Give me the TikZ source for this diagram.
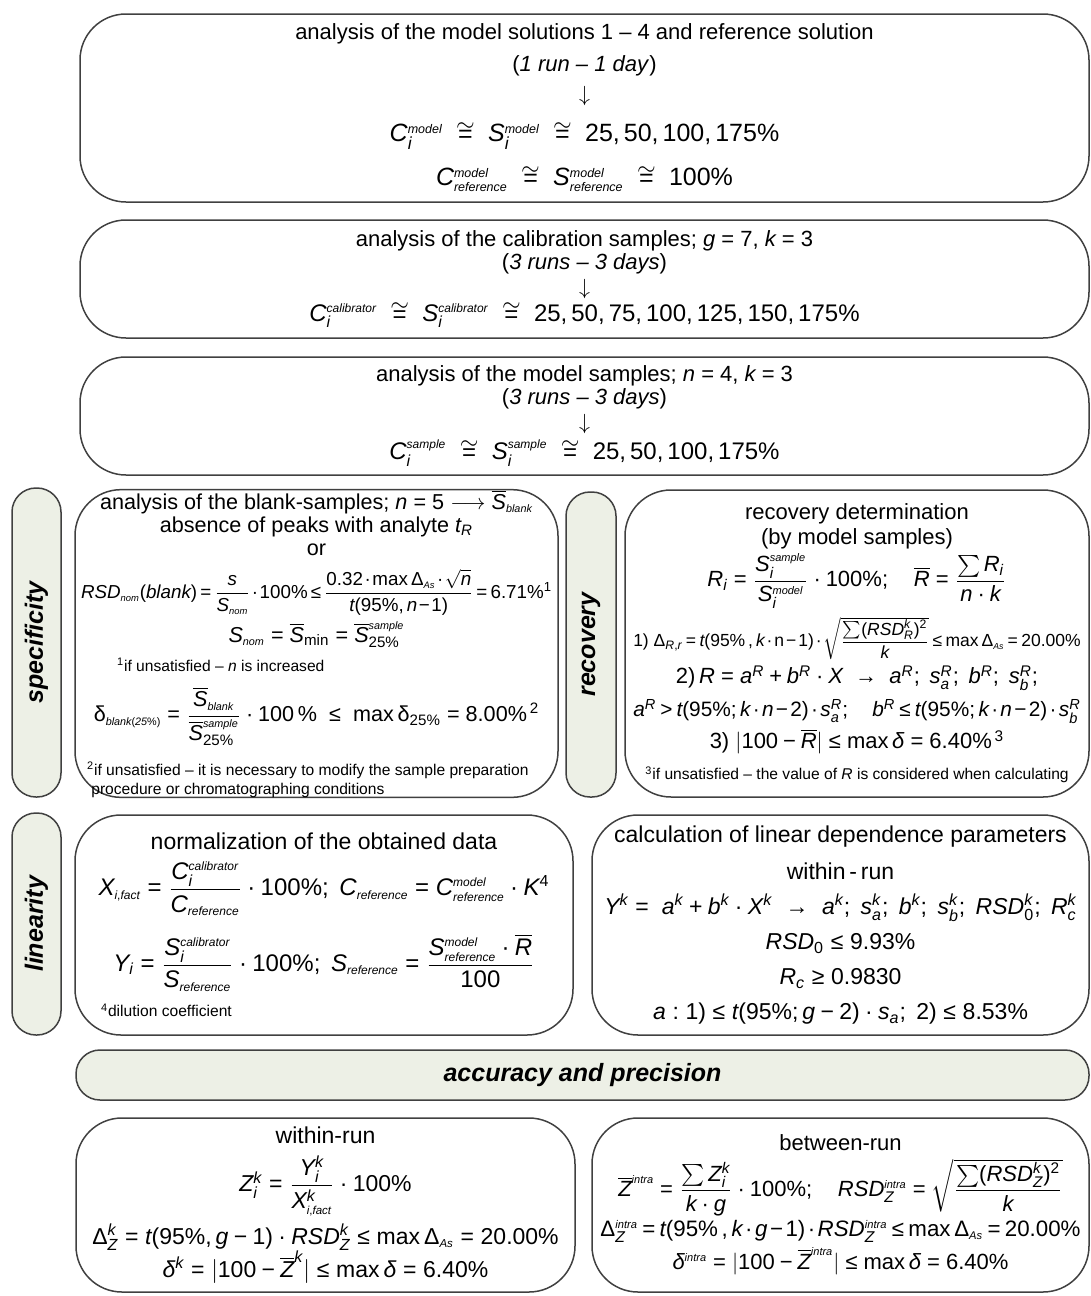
\documentclass[tikz,border=0pt]{standalone}
\usepackage{amsmath}
\usepackage{fontspec}
\setmainfont{Liberation Sans}
\newfontfamily\mathsans{Liberation Sans}[NFSSFamily=libsans]
% sans serif letters and digits in formulas
\DeclareSymbolFont{sfit}{TU}{libsans}{m}{it}
\SetSymbolFont{operators}{normal}{TU}{libsans}{m}{n}
\DeclareMathAlphabet{\mathit}{TU}{libsans}{m}{it}
\makeatletter
\count@=`A
\loop \Umathcode\count@=7 \symsfit\count@ \ifnum\count@<`Z \advance\count@\@ne \repeat
\count@=`a
\loop \Umathcode\count@=7 \symsfit\count@ \ifnum\count@<`z \advance\count@\@ne \repeat
\AtBeginDocument{%
  \count@=`0
  \loop \Umathcode\count@=7 \symoperators\count@ \ifnum\count@<`9 \advance\count@\@ne \repeat
  \Umathcode`(=4 \symoperators `(
  \Umathcode`)=5 \symoperators `)
  \Umathcode`==3 \symoperators `=
  \Umathcode`+=2 \symoperators `+
  \Umathcode`-=2 \symoperators "2212
  \Umathcode`;=6 \symoperators `;
  \Umathcode`:=3 \symoperators `:
  \Umathcode`,=6 \symoperators `,
  \Umathcode`.=0 \symoperators `.
  \Umathcode`>=3 \symoperators `>
  \Umathcode`<=3 \symoperators `<
  \Umathcode`\%=0 \symoperators `\%
  \Umathcode"03B4=7 \symsfit "03B4
  \Umathcode"0394=0 \symoperators "0394
  \let\cmrightarrow\rightarrow
  \renewcommand{\longrightarrow}{\relbar\joinrel\cmrightarrow}
  \Umathchardef\le="3 \symoperators "2264
  \Umathchardef\ge="3 \symoperators "2265
  \Umathchardef\cdot="2 \symoperators "00B7
  \Umathchardef\rightarrow="3 \symoperators "2192
}
\makeatother
\usetikzlibrary{positioning}

\definecolor{edge}{HTML}{404040}
\definecolor{tabfill}{HTML}{EDF0E6}

% small italic words in indices
\newcommand{\w}[1]{\mathit{\scriptscriptstyle #1}}
\newcommand{\lline}[1]{\makebox[\hsize][l]{#1}}
\newcommand{\fullline}[1]{\resizebox{0.99\hsize}{!}{\medmuskip=2mu\thickmuskip=3.5mu #1}}
\newcommand{\fnote}{\fontsize{7.8}{9}\selectfont}

\tikzset{
  box/.style={draw=edge, line width=0.75pt, rounded corners=23pt, inner xsep=3pt,
    inner ysep=0pt, align=flush center, font=\fontsize{11}{13}\selectfont,
    execute at begin node=\setlength{\parindent}{0pt}},
  tab/.style={draw=edge, fill=tabfill, line width=0.75pt, rounded corners=12pt,
    inner sep=0pt, font=\fontsize{12.5}{14}\selectfont\bfseries\itshape},
}

\begin{document}
\begin{tikzpicture}[x=1pt,y=-1pt]
\useasboundingbox (0,0) rectangle (545.5,648);

% the three analysis steps
\node[box, minimum height=94pt, text width=498.5pt, font=\fontsize{11}{16}\selectfont] (solutions) at (292.25,54) {
  analysis of the model solutions 1 – 4 and reference solution\\
  (\textit{1 run – 1 day})\\[-1pt]
  $\downarrow$\\[4pt]
  {\fontsize{12.5}{14}\selectfont $C_i^{\w{model}} \;\cong\; S_i^{\w{model}} \;\cong\; 25, 50, 100, 175\%$}\\[6pt]
  {\fontsize{12.5}{14}\selectfont $C^{\w{model}}_{\w{reference}} \;\cong\; S^{\w{model}}_{\w{reference}} \;\cong\; 100\%$}};
\node[box, minimum height=59pt, text width=498.5pt, font=\fontsize{11}{11.5}\selectfont] (calibration) at (292.25,139.5) {
  analysis of the calibration samples; $g = 7$, $k = 3$\\
  (\textit{3 runs – 3 days})\\[1pt]
  $\downarrow$\\[2pt]
  {\fontsize{12}{14}\selectfont $C_i^{\w{calibrator}} \;\cong\; S_i^{\w{calibrator}} \;\cong\; 25, 50, 75, 100, 125, 150, 175\%$}};
\node[box, minimum height=59pt, text width=498.5pt, font=\fontsize{11}{11.5}\selectfont] (samples) at (292.25,208) {
  analysis of the model samples; $n = 4$, $k = 3$\\
  (\textit{3 runs – 3 days})\\[1pt]
  $\downarrow$\\[2pt]
  {\fontsize{12}{14}\selectfont $C_i^{\w{sample}} \;\cong\; S_i^{\w{sample}} \;\cong\; 25, 50, 100, 175\%$}};

% specificity and recovery
\node[tab, rotate=90, minimum width=154.5pt, minimum height=24.5pt] (spec) at (18.25,321.25) {specificity};
\node[box, minimum height=153.5pt, text width=235.5pt, font=\fontsize{10.8}{11.5}\selectfont] (blank) at (158.25,321.75) {
  analysis of the blank-samples; $n = 5 \longrightarrow \overline{S}_{\w{blank}}$\\
  absence of peaks with analyte $t_R$\\
  or\\[6pt]
  \resizebox{\hsize}{!}{\medmuskip=1.5mu\thickmuskip=3mu $RSD_{\w{nom}}(blank) = \dfrac{s}{S_{\w{nom}}}\cdot 100\% \le \dfrac{0.32\cdot\max Δ_{\w{As}}\cdot\sqrt{n}}{t(95\%, n-1)} = 6.71\%^1$}\\[2pt]
  $S_{\w{nom}} = \overline{S}_{\min} = \overline{S}^{\w{sample}}_{25\%}$\\[3pt]
  \lline{\hspace{18pt}\fnote $^1$if unsatisfied – \textit{n} is increased}\\[7pt]
  $\mathrm{δ}_{\w{blank(25\%)}} = \dfrac{\overline{S}_{\w{blank}}}{\overline{S}^{\w{sample}}_{25\%}}\cdot 100\,\% \;\le\; \max\mathrm{δ}_{25\%} = 8.00\%^{\,2}$\\[7pt]
  \lline{\hspace{3pt}\fnote $^2$if unsatisfied – it is necessary to modify the sample preparation}\\[-2pt]
  \lline{\hspace{3pt}\fnote \ procedure or chromatographing conditions}};
\node[tab, rotate=90, minimum width=152.5pt, minimum height=25pt] (recov) at (295.5,322.25) {recovery};
\node[box, minimum height=153.5pt, text width=226pt, font=\fontsize{11}{12.5}\selectfont] (recovery) at (428.5,321.75) {
  recovery determination\\
  (by model samples)\\[1pt]
  $R_i = \dfrac{S_i^{\w{sample}}}{S_i^{\w{model}}}\cdot 100\%;\quad \overline{R} = \dfrac{\sum R_i}{n\cdot k}$\\[3pt]
  \fullline{1) $Δ_{R,r} = t(95\%\,,k\cdot\mathrm{n}-1)\cdot\sqrt{\dfrac{\sum(RSD_R^k)^2}{k}} \le \max Δ_{\w{As}} = 20.00\%$}\\[2pt]
  2)\,$R = a^R + b^R\cdot X \;\rightarrow\; a^R;\ s_a^R;\ b^R;\ s_b^R;$\\[4pt]
  \fullline{$a^R > t(95\%;k\cdot n-2)\cdot s_a^R;\quad b^R \le t(95\%;k\cdot n-2)\cdot s_b^R$}\\[2pt]
  3) $\bigl|100 - \overline{R}\bigr| \le \max δ = 6.40\%^{\,3}$\\[3pt]
  {\fnote $^3$if unsatisfied – the value of \textit{R} is considered when calculating}};

% linearity
\node[tab, rotate=90, minimum width=111pt, minimum height=24.5pt] (lin) at (18.25,462) {linearity};
\node[box, minimum height=110pt, text width=243pt, font=\fontsize{11.5}{13}\selectfont] (normalization) at (162,462.5) {
  normalization of the obtained data\\[5pt]
  {\fontsize{12}{14}\selectfont $X_{\w{i,fact}} = \dfrac{C_i^{\w{calibrator}}}{C_{\w{reference}}}\cdot 100\%;\ C_{\w{reference}} = C^{\w{model}}_{\w{reference}}\cdot K^4$}\\[8pt]
  {\fontsize{12}{14}\selectfont $Y_i = \dfrac{S_i^{\w{calibrator}}}{S_{\w{reference}}}\cdot 100\%;\ S_{\w{reference}} = \dfrac{S^{\w{model}}_{\w{reference}}\cdot\overline{R}}{100}$}\\[5pt]
  \lline{\hspace{10pt}\fnote $^4$dilution coefficient}};
\node[box, minimum height=110pt, text width=242.5pt, font=\fontsize{11.5}{17.5}\selectfont] (dependence) at (420.25,462.5) {
  calculation of linear dependence parameters\\[1pt]
  within\,-\,run\\
  $Y^k =\ a^k + b^k\cdot X^k \;\rightarrow\; a^k;\ s_a^k;\ b^k;\ s_b^k;\ RSD_0^k;\ R_c^k$\\
  $RSD_0 \le 9.93\%$\\
  $R_c \ge 0.9830$\\
  $a:1) \le t(95\%;g-2)\cdot s_a;\ 2) \le 8.53\%$};

% accuracy and precision
\node[tab, minimum width=506.5pt, minimum height=25pt] (acc) at (291.25,537.5) {accuracy and precision};
\node[box, minimum height=87pt, text width=243.5pt, font=\fontsize{11.5}{16.5}\selectfont] (within) at (162.75,602.5) {
  within-run\\[5pt]
  $Z_i^k = \dfrac{Y_i^k}{X_{\w{i,fact}}^k}\cdot 100\%$\\[3pt]
  $Δ_Z^k = t(95\%, g-1)\cdot RSD_Z^k \le \max Δ_{\w{As}} = 20.00\%$\\
  $δ^k = \bigl|100 - \overline{Z}^k\bigr| \le \max δ = 6.40\%$};
\node[box, minimum height=87pt, text width=242.5pt, font=\fontsize{11}{16.5}\selectfont] (between) at (420.25,602.5) {
  between-run\\[3pt]
  $\overline{Z}^{\w{intra}} = \dfrac{\sum Z_i^k}{k\cdot g}\cdot 100\%;\quad RSD_Z^{\w{intra}} = \sqrt{\dfrac{\sum(RSD_Z^k)^2}{k}}$\\[1pt]
  \fullline{$Δ_Z^{\w{intra}} = t(95\%\,,k\cdot g-1)\cdot RSD_Z^{\w{intra}} \le \max Δ_{\w{As}} = 20.00\%$}\\
  $δ^{\w{intra}} = \bigl|100 - \overline{Z}^{\w{intra}}\bigr| \le \max δ = 6.40\%$};
\end{tikzpicture}
\end{document}
